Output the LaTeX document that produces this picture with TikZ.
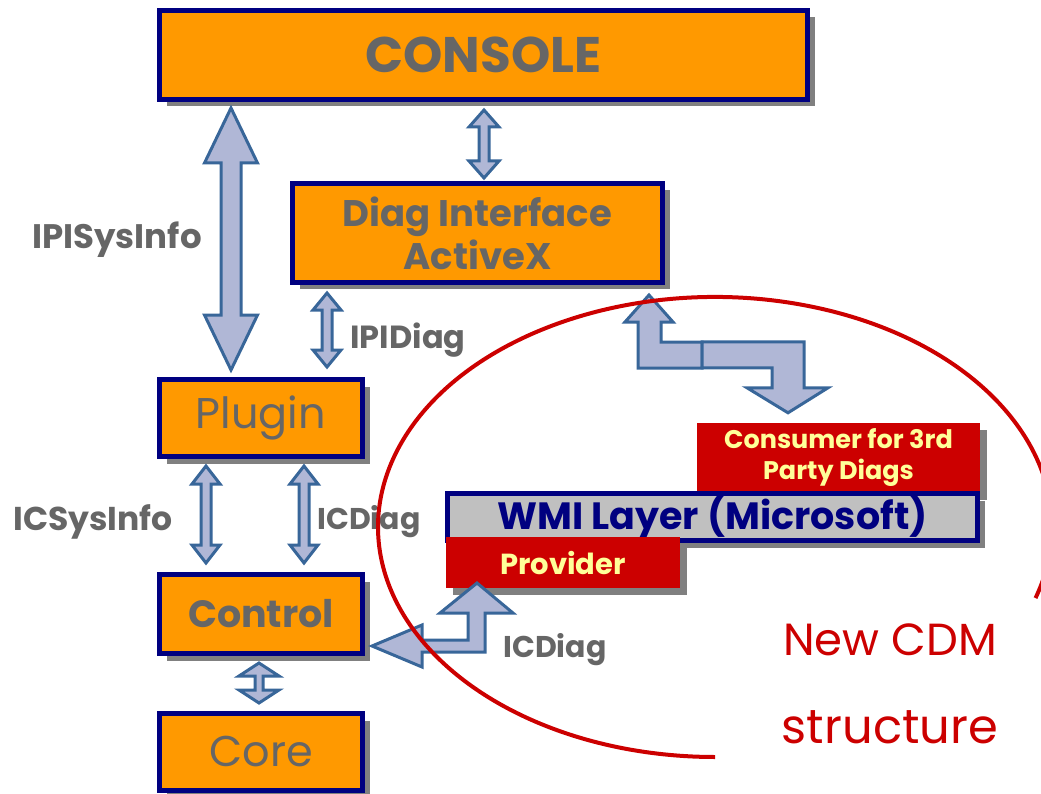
\documentclass[tikz,border=0pt]{standalone}
\usepackage{fontspec}
\setmainfont{Poppins}
\usetikzlibrary{calc}
\definecolor{orng}{HTML}{FF9900}
\definecolor{navy}{HTML}{000080}
\definecolor{txtgray}{HTML}{666666}
\definecolor{shgray}{HTML}{808080}
\definecolor{arfill}{RGB}{176,183,214}
\definecolor{arline}{RGB}{56,102,153}
\definecolor{cred}{HTML}{CC0000}
\definecolor{cyel}{HTML}{FFFF99}
\definecolor{wgray}{HTML}{C0C0C0}
\newcommand\fs[2]{\fontsize{#1}{#2}\selectfont}
% vertical double block arrow: #1 top tip, #2 bottom tip, #3 half head width, #4 half shaft width, #5 head length
\newcommand\vdarrow[5]{%
  \draw[blockarrow] let \p1=(#1), \p2=(#2) in
    (\x1,\y1) -- ({\x1+#3pt},{\y1-#5pt}) -- ({\x1+#4pt},{\y1-#5pt})
    -- ({\x1+#4pt},{\y2+#5pt}) -- ({\x1+#3pt},{\y2+#5pt}) -- (\x1,\y2)
    -- ({\x1-#3pt},{\y2+#5pt}) -- ({\x1-#4pt},{\y2+#5pt})
    -- ({\x1-#4pt},{\y1-#5pt}) -- ({\x1-#3pt},{\y1-#5pt}) -- cycle;}
\begin{document}
\begin{tikzpicture}[x=1pt,y=-1pt,
  shadowed/.style={preaction={draw=none,fill=shgray,transform canvas={xshift=7pt,yshift=-7pt}}},
  obox/.style={shadowed,draw=navy,line width=5pt,fill=orng,inner sep=0pt,text=txtgray,align=center},
  rbox/.style={shadowed,fill=cred,inner sep=0pt,text=cyel,align=center,font=\bfseries},
  blockarrow/.style={draw=arline,fill=arfill,line width=3pt,line join=miter},
  lbl/.style={text=txtgray,inner sep=0pt}]
\useasboundingbox (0,0) rectangle (1041,794);
\begin{scope}
\clip (0,0) rectangle (1041,794);
% boxes
\node[obox,minimum width=648pt,minimum height=89pt,font=\bfseries\fs{50}{58}] (console) at (483.5,55) {CONSOLE};
\node[obox,minimum width=370pt,minimum height=99pt,font=\bfseries\fs{37}{43}] (diag) at (477.5,233) {Diag Interface\\ActiveX};
\node[obox,minimum width=203pt,minimum height=77pt,font=\fs{43}{48}] (plugin) at (261,418) {Plugin};
\node[obox,minimum width=203pt,minimum height=79pt,font=\bfseries\fs{38}{46}] (control) at (261,614) {Control};
\node[obox,minimum width=203pt,minimum height=77pt,font=\fs{43}{50}] (core) at (261,752) {Core};
\node[rbox,minimum width=283pt,minimum height=70pt,font=\bfseries\fs{25.5}{31}] (consumer) at (838.5,458) {Consumer for 3rd\\Party Diags};
\node[obox,fill=wgray,text=navy,minimum width=530pt,minimum height=47pt,font=\bfseries\fs{38}{44}] (wmi) at (712.5,517) {WMI Layer (Microsoft)};
\node[rbox,minimum width=234pt,minimum height=51pt,font=\bfseries\fs{29}{34}] (provider) at (563,562.5) {Provider};
% arrow x positions
\coordinate (xa) at (231,0);
\coordinate (xb) at (484,0);
\coordinate (xc) at (327,0);
\coordinate (xd) at (206,0);
\coordinate (xe) at (304,0);
\coordinate (xf) at (259,0);
\vdarrow{[yshift=-6pt]console.south -| xa}{[yshift=7pt]plugin.north -| xa}{26.5}{10}{55}
\vdarrow{[yshift=-8pt]console.south -| xb}{[yshift=3pt]diag.north -| xb}{15}{5}{17}
\vdarrow{[yshift=-8pt]diag.south -| xc}{[yshift=10pt]plugin.north -| xc}{14}{5}{17}
\vdarrow{[yshift=-7pt]plugin.south -| xd}{[yshift=9pt]control.north -| xd}{14}{5}{18}
\vdarrow{[yshift=-7pt]plugin.south -| xe}{[yshift=9pt]control.north -| xe}{14}{5}{18}
\vdarrow{[yshift=-7pt]control.south -| xf}{[yshift=8pt]core.north -| xf}{20}{4}{13}
% bent arrows
\coordinate (t1) at ([yshift=-10pt]diag.south -| 649,0);
\draw[blockarrow] (t1) -- ++(24,27) -- ++(-12,0) -- ++(0,20) -- ++(41,0) -- ++(0,26)
  -- ++(-64,0) -- ++(0,-46) -- ++(-13,0) -- cycle;
\coordinate (t2) at ([yshift=10pt]consumer.north -| 788,0);
\draw[blockarrow] (t2) -- ++(40,-25) -- ++(-24,0) -- ++(0,-46) -- ++(-102,0) -- ++(0,26)
  -- ++(70,0) -- ++(0,20) -- ++(-25,0) -- cycle;
\coordinate (t3) at ([xshift=7pt]control.east |- 0,646);
\draw[blockarrow] (t3) -- ++(50,-21) -- ++(0,15) -- ++(46,0) -- ++(0,-27) -- ++(-28,0)
  -- ++(37,-30) -- ++(36,30) -- ++(-28,0) -- ++(0,39) -- ++(-63,0) -- ++(0,15) -- cycle;
% labels
\node[lbl,font=\bfseries\fs{34}{38}] (l1) at (117,240) {IPISysInfo};
\node[lbl,font=\bfseries\fs{32}{36}] (l2) at (408,340) {IPIDiag};
\node[lbl,font=\bfseries\fs{33}{38}] (l3) at (93,522) {ICSysInfo};
\node[lbl,font=\bfseries\fs{30}{36}] (l4) at (369,522) {ICDiag};
\node[lbl,font=\bfseries\fs{30}{36}] (l5) at (555,650) {ICDiag};
% red arc
\draw[draw=cred,line width=4pt] ([shift={(18:337 and 230)}]715,527) arc[start angle=18,end angle=-270,x radius=337,y radius=230];
\node[text=cred,font=\fs{45}{52},inner sep=0pt] (n1) at (890,640) {New CDM};
\node[text=cred,font=\fs{48}{52},inner sep=0pt] (n2) at (890,727) {structure};
\end{scope}
\end{tikzpicture}
\end{document}
